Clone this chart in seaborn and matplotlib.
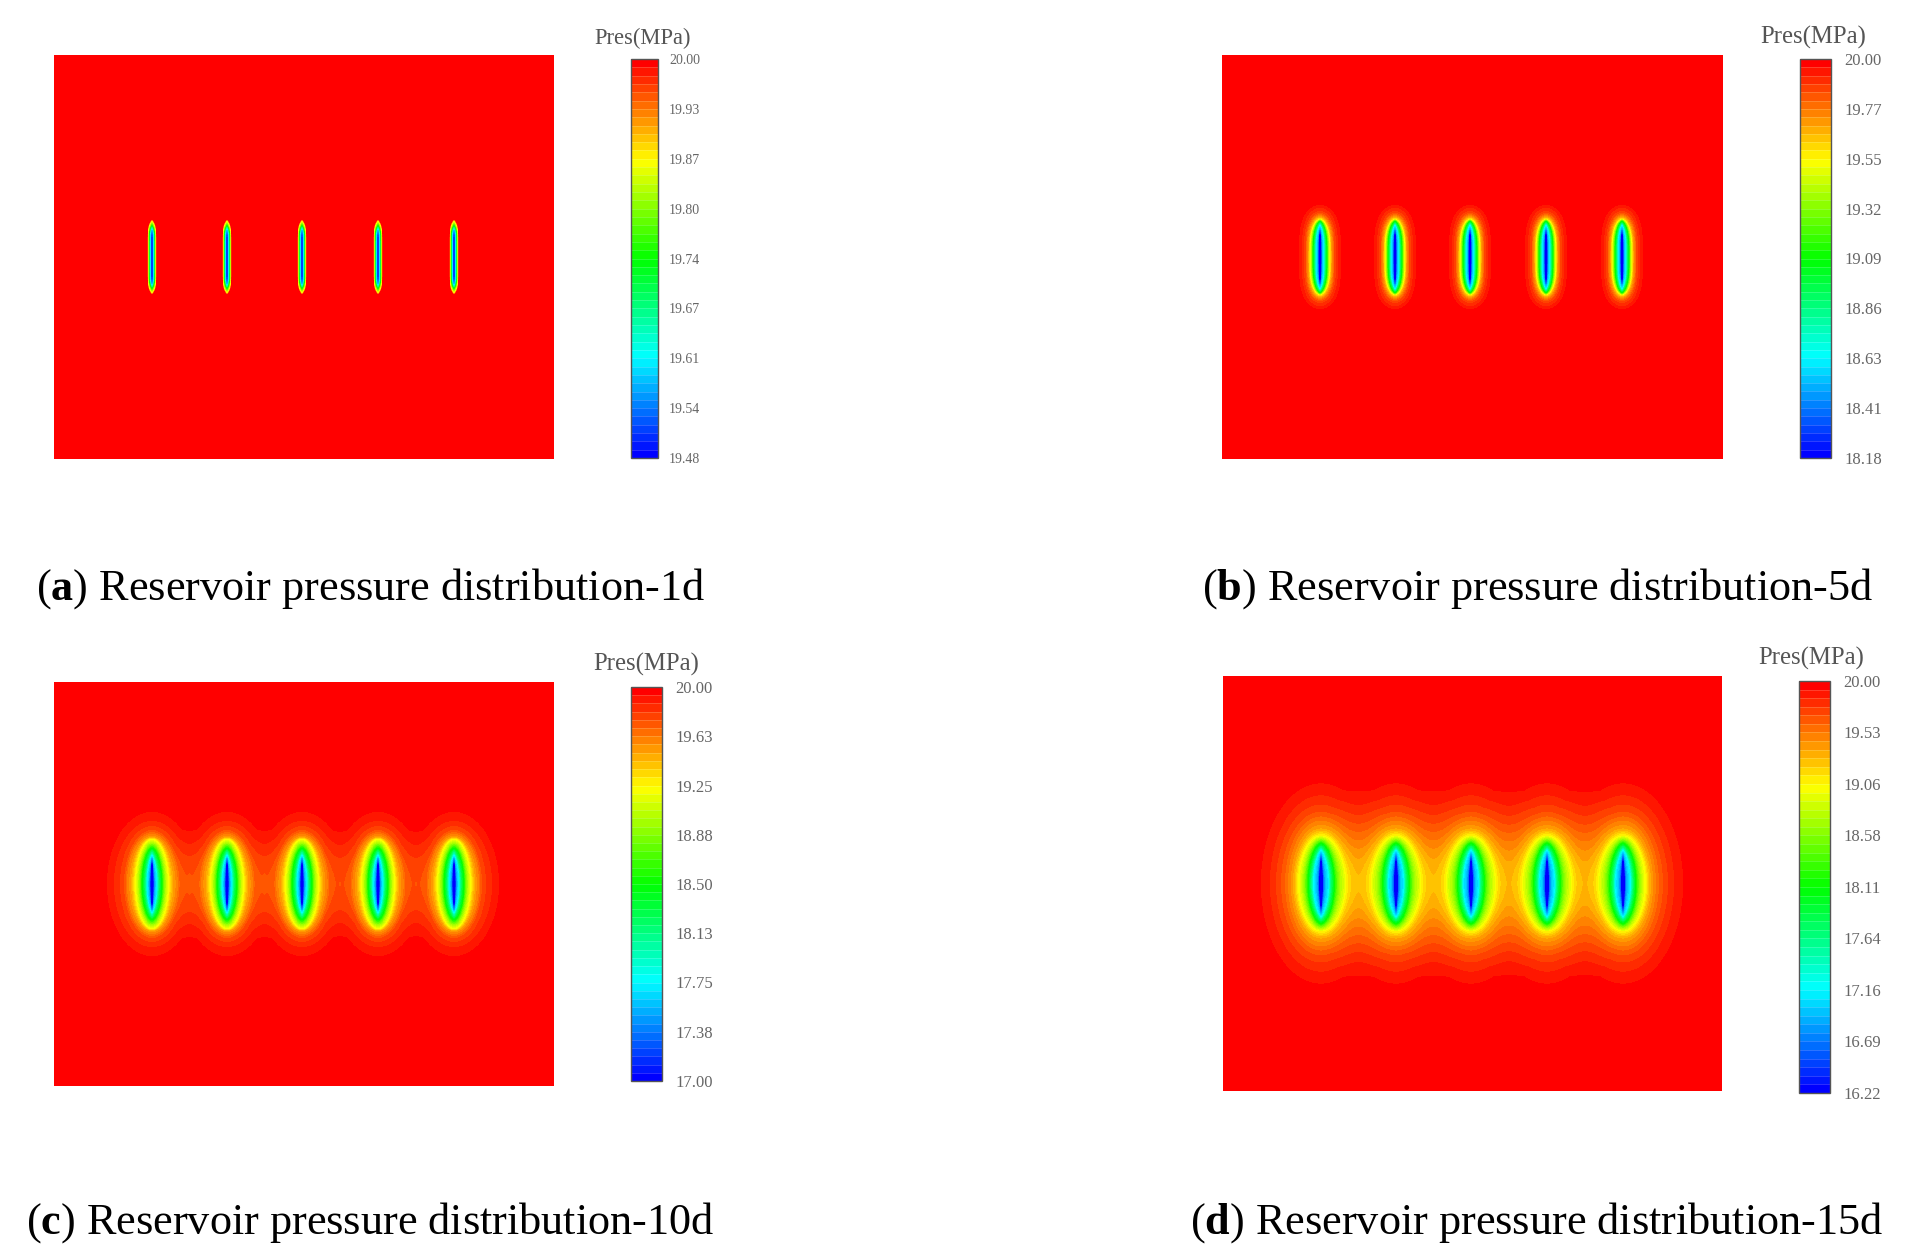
import numpy as np
import matplotlib
matplotlib.use("Agg")
import matplotlib.pyplot as plt
import seaborn as sns
from matplotlib.colors import LinearSegmentedColormap

# Readings (offsets in px from a well centre)
well_x = [98, 173, 248, 324, 400]

# relative pressure drop at each contour, 0 = 20 MPa, 1 = bottom of the colour bar
drop_a = [0, 0.02, 0.25, 0.5, 0.75, 1]
half_x_a = [5, 4.6, 3.9, 2.9, 1.8, 0.4]
half_y_a = [39, 38, 36, 32, 29, 27]
tip_x_a = [1, 1, 1, 1, 1, 1]

drop_b = [0, 0.021, 0.042, 0.0625, 0.083, 0.125, 0.167, 0.25, 0.5, 0.75, 1]
half_x_b = [24, 21, 18, 16, 14.5, 13, 11.5, 10, 7, 4, 1]
half_y_b = [55, 52, 49, 46, 44, 42, 40, 38, 36, 32, 26]
tip_x_b = [2, 2, 2, 2, 2, 1.9, 1.8, 1.7, 1.5, 1.3, 1]

drop_c = [0, 0.021, 0.042, 0.0625, 0.083, 0.125, 0.167, 0.25, 0.5, 0.75, 1]
half_x_c = [58, 45, 38, 32, 28, 25, 21, 17, 10, 5, 1.2]
half_y_c = [90, 72, 63, 58, 54, 50, 47, 45, 36, 29, 24]
tip_x_c = [2, 2, 2, 2, 2, 2, 2, 2, 1.8, 1.4, 1]

drop_d = [0, 0.021, 0.042, 0.0625, 0.083, 0.125, 0.167, 0.25, 0.5, 0.75, 1]
half_x_d = [80, 60, 51, 45, 40, 33, 28, 23, 13, 7.5, 1.5]
half_y_d = [125, 100, 88, 79, 72, 63, 55, 48, 40, 33, 26]
tip_x_d = [2, 2, 2, 2, 2, 2, 2, 2, 1.8, 1.4, 1]

ticks_a = ["19.48", "19.54", "19.61", "19.67", "19.74", "19.80", "19.87", "19.93", "20.00"]
ticks_b = ["18.18", "18.41", "18.63", "18.86", "19.09", "19.32", "19.55", "19.77", "20.00"]
ticks_c = ["17.00", "17.38", "17.75", "18.13", "18.50", "18.88", "19.25", "19.63", "20.00"]
ticks_d = ["16.22", "16.69", "17.16", "17.64", "18.11", "18.58", "19.06", "19.53", "20.00"]

caption_a = r"($\mathbf{a}$) Reservoir pressure distribution-1d"
caption_b = r"($\mathbf{b}$) Reservoir pressure distribution-5d"
caption_c = r"($\mathbf{c}$) Reservoir pressure distribution-10d"
caption_d = r"($\mathbf{d}$) Reservoir pressure distribution-15d"

W, H = 1921, 1260

sns.set_theme(style="white")
plt.rcParams["font.family"] = ["Liberation Serif", "DejaVu Serif"]
plt.rcParams["mathtext.fontset"] = "custom"
plt.rcParams["mathtext.rm"] = "Liberation Serif"
plt.rcParams["mathtext.bf"] = "Liberation Serif:bold"

pres_cmap = LinearSegmentedColormap.from_list(
    "pres", ["#0000ff", "#00ffff", "#00ff00", "#ffff00", "#ff0000"], N=48
)


def px_axes(fig, x0, y0, x1, y1):
    return fig.add_axes([x0 / W, 1 - y1 / H, (x1 - x0) / W, (y1 - y0) / H])


def well_drop(dx, dy, drop, half_x, half_y, tip_x, tip_y):
    # contour shapes of one well, the field between two contours is filled linearly
    q = np.stack([
        (np.abs(dx) / hx) ** tx + (np.abs(dy) / hy) ** tip_y
        for hx, hy, tx in zip(half_x, half_y, tip_x)
    ])
    inside = q <= 1
    k = inside.sum(axis=0) - 1
    out = np.zeros(dx.shape)
    levels = np.array(drop)
    last = len(drop) - 1
    out[k >= last] = 1.0
    mid = (k >= 0) & (k < last)
    r, c = np.nonzero(mid)
    kk = k[mid]
    t = (1 - q[kk, r, c]) / (q[kk + 1, r, c] - q[kk, r, c])
    out[mid] = levels[kk] + np.clip(t, 0, 1) * (levels[kk + 1] - levels[kk])
    return out


def draw_panel(fig, box, bar, drop, half_x, half_y, tip_x, tip_y, ticks, caption,
               cap_x, cap_y, title_x, title_y, title_size, tick_size):
    x0, y0, x1, y1 = box
    xx, yy = np.meshgrid(np.arange(x1 - x0) + 0.5, np.arange(y1 - y0) + 0.5)
    total = np.zeros(xx.shape)
    for wx in well_x:
        total += well_drop(xx - wx, yy - (y1 - y0) / 2, drop, half_x, half_y, tip_x, tip_y)
    total = np.clip(total, 0, 1)

    low, high = float(ticks[0]), float(ticks[-1])
    pressure = high - total * (high - low)

    ax = px_axes(fig, *box)
    cax = px_axes(fig, *bar)
    sns.heatmap(pressure, ax=ax, cbar_ax=cax, cmap=pres_cmap, vmin=low, vmax=high,
                xticklabels=False, yticklabels=False, cbar_kws={"drawedges": True})
    cbar = ax.collections[0].colorbar
    cbar.dividers.set_color((1, 1, 1, 0.18))
    cbar.dividers.set_linewidth(0.7)
    cbar.outline.set_edgecolor("#555555")
    cbar.outline.set_linewidth(1.0)
    cbar.outline.set_visible(True)
    cbar.set_ticks(np.linspace(low, high, len(ticks)), labels=ticks)
    cax.tick_params(length=0, pad=tick_size * 0.8, labelsize=tick_size, labelcolor="#666666")

    fig.text(title_x / W, 1 - title_y / H, "Pres(MPa)",
             fontsize=title_size, color="#555555", ha="center", va="center")
    fig.text(cap_x / W, 1 - cap_y / H, caption, fontsize=31.9, color="black",
             ha="center", va="center")


fig = plt.figure(figsize=(W / 100, H / 100), dpi=100, facecolor="white")

draw_panel(fig, (54, 55, 554, 459), (631, 59, 658, 458), drop_a, half_x_a, half_y_a,
           tip_x_a, 8, ticks_a, caption_a, 370, 589, 643, 38, 16.3, 10)
draw_panel(fig, (1222, 55, 1723, 459), (1800, 59, 1831, 458), drop_b, half_x_b, half_y_b,
           tip_x_b, 3.5, ticks_b, caption_b, 1538, 589, 1813, 37, 17.8, 12)
draw_panel(fig, (54, 682, 554, 1086), (631, 687, 662, 1081), drop_c, half_x_c, half_y_c,
           tip_x_c, 2, ticks_c, caption_c, 370, 1223, 646, 664, 17.8, 12)
draw_panel(fig, (1223, 676, 1722, 1091), (1799, 681, 1830, 1093), drop_d, half_x_d, half_y_d,
           tip_x_d, 2, ticks_d, caption_d, 1537, 1223, 1811, 658, 17.8, 12)

fig.savefig("out.png", dpi=100)
